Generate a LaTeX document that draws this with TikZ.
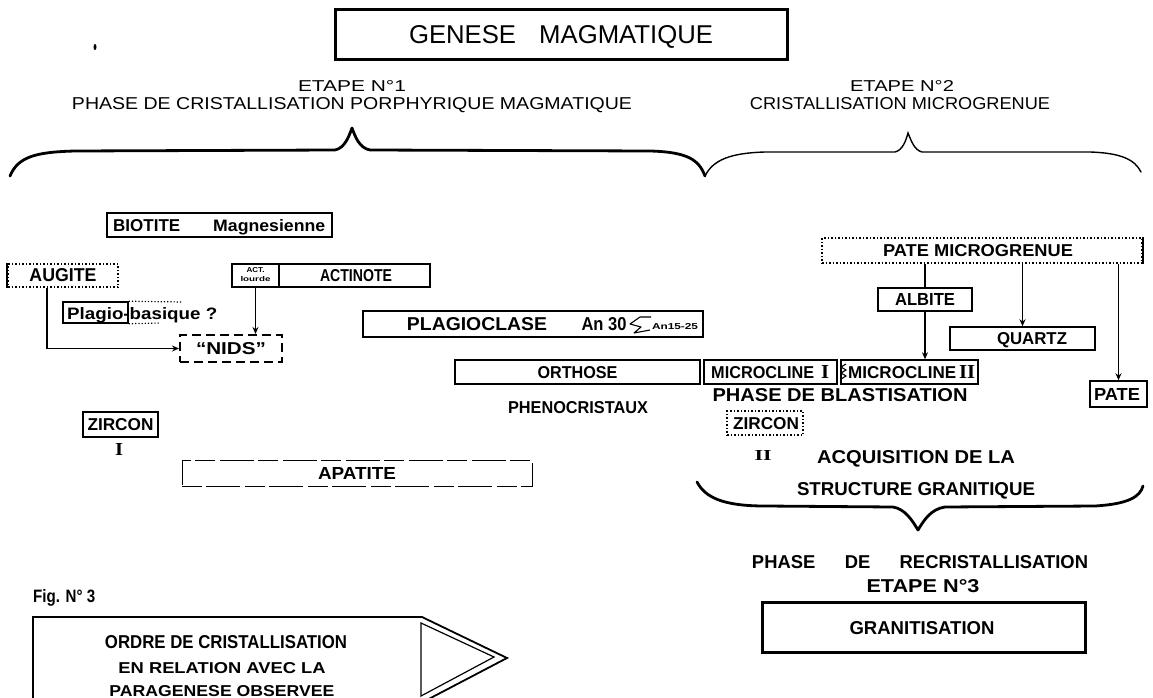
\documentclass[tikz,border=0pt]{standalone}
\usepackage{fontspec}
\setmainfont{Liberation Sans}
\newfontfamily\serifb{Liberation Serif}
\usepackage{graphicx}
\usetikzlibrary{arrows.meta}
\newcommand{\tx}[3]{\resizebox{#1pt}{#2pt}{#3}}
\tikzset{
  box/.style={draw, line width=1.5pt, inner sep=0pt},
  thickbox/.style={draw, line width=3pt, inner sep=0pt},
  lbl/.style={inner sep=0pt, anchor=base, font=\fontsize{15}{15}\selectfont\bfseries},
  lblw/.style={inner sep=0pt, anchor=base west, font=\fontsize{15}{15}\selectfont\bfseries},
  lblr/.style={inner sep=0pt, anchor=base, font=\fontsize{15}{15}\selectfont},
  conn/.style={line width=1.6pt},
  arr/.style={conn, -{Stealth[length=7pt,width=6pt]}},
  bracepath/.style={line width=2.8pt, line cap=round, line join=round},
}
\begin{document}
\begin{tikzpicture}[x=1pt,y=-1pt]
\useasboundingbox (0,0) rectangle (1153,698);
\fill[white] (0,0) rectangle (1153,698);

% speck
\fill (95,47) ellipse (1.5 and 3);

% title
\node[thickbox, minimum width=452, minimum height=50] (title) at (561,35) {};
\node[lblr] (titlet) at (561,44) {\tx{304}{18}{GENESE\hspace{0.9em}MAGMATIQUE}};

% stage headers
\node[lblr] (e1) at (352,92) {\tx{108}{11}{ETAPE N°1}};
\node[lblr] (p1) at (352,110) {\tx{560}{12}{PHASE DE CRISTALLISATION PORPHYRIQUE MAGMATIQUE}};
\node[lblr] (e2) at (902,92) {\tx{104}{11}{ETAPE N°2}};
\node[lblr] (p2) at (900,110) {\tx{300}{12}{CRISTALLISATION MICROGRENUE}};

% braces
\draw[bracepath] (10,176) .. controls (18,157) and (35,152) .. (75,151) -- (335,150)
  .. controls (345,148) and (349,136) .. (352,128) .. controls (355,136) and (359,148) .. (370,150)
  -- (650,151) .. controls (688,152) and (699,160) .. (705,176);
\draw[line width=1.4pt, line cap=round] (705,176) .. controls (713,160) and (730,153) .. (765,152) -- (895,152)
  .. controls (903,150) and (906,140) .. (908,133) .. controls (911,140) and (914,150) .. (922,152)
  -- (1090,152) .. controls (1122,153) and (1135,160) .. (1141,172);

% left column
\node[box, minimum width=225, minimum height=24] (biotite) at (219.5,225) {};
\node[lblw] (biot) at (113,231) {\tx{67}{12}{BIOTITE}};
\node[lblw] (magn) at (213,231) {\tx{112}{12}{Magnesienne}};

\node[box, dotted, minimum width=110, minimum height=23] (augite) at (63,275.5) {};
\draw[line width=1.8pt] (augite.north west) -- (augite.south west);
\node[lbl] (augt) at (63,281) {\tx{67}{13}{AUGITE}};

\node[box, minimum width=47, minimum height=23] (act) at (255.5,275.5) {};
\node[lbl] (actt) at (255.5,272) {\tx{18}{5}{ACT.}};
\node[lbl] (lourt) at (255.5,281) {\tx{30}{5}{lourde}};
\node[box, minimum width=151, minimum height=23] (actinote) at (354.5,275.5) {};
\node[lbl] (actit) at (356,281) {\tx{72}{12}{ACTINOTE}};

\node[box, minimum width=65, minimum height=21] (plagio) at (95.5,312.5) {};
\draw[line width=1.2pt, dotted] (plagio.north east) -- (183,302);
\draw[line width=1.2pt, dotted] (plagio.south east) -- (160,323);
\node[lblw] (plagiot) at (67,319) {\tx{150}{12}{Plagio-basique ?}};

\node[box, line width=2pt, dash pattern=on 9pt off 5pt, minimum width=102, minimum height=27] (nids) at (231,348.5) {};
\node[lbl] (nidst) at (231,354) {\tx{70}{12}{“NIDS”}};

\draw[arr] ([xshift=40pt]augite.south west) |- (nids.west);
\draw[arr] (act.south) -- (act.south |- nids.north);

\node[box, minimum width=75, minimum height=25] (zircon1) at (120.5,424.5) {};
\node[lbl] (z1t) at (120.5,430.5) {\tx{66}{12}{ZIRCON}};
\node[lbl] (z1n) at (119,455) {\tx{8}{12}{\serifb\bfseries I}};

\node[box, line width=0.9pt, dash pattern=on 20pt off 4pt on 34pt off 5pt, minimum width=350, minimum height=26] (apatite) at (357,473) {};
\node[lbl] (apt) at (357,479) {\tx{78}{12}{APATITE}};

% middle
\node[box, minimum width=340, minimum height=26] (plagioclase) at (533,324) {};
\node[lbl] (plt) at (477,330.5) {\tx{140}{13}{PLAGIOCLASE}};
\node[lbl] (an30) at (604,330.5) {\tx{45}{13}{An 30}};
\draw[line width=1.1pt, line join=round] (651,317) -- (640,317) -- (630,324) -- (641,327) -- (634,333) -- (650,330);
\node[lbl] (an15) at (675,329) {\tx{46}{6}{An15-25}};

\node[box, minimum width=245, minimum height=24] (orthose) at (577.5,372) {};
\node[lbl] (ort) at (577.5,378) {\tx{80}{12}{ORTHOSE}};
\node[lbl] (phen) at (578,413) {\tx{140}{12}{PHENOCRISTAUX}};

% right column
\node[box, dotted, minimum width=320, minimum height=25] (pm) at (982,250.5) {};
\draw[line width=1.8pt] (pm.north east) -- (pm.south east);
\node[lbl] (pmt) at (978,256) {\tx{190}{12}{PATE MICROGRENUE}};

\node[box, minimum width=94, minimum height=23] (albite) at (925,299.5) {};
\node[lbl] (albt) at (925,305.5) {\tx{60}{12}{ALBITE}};

\node[box, minimum width=145, minimum height=23] (quartz) at (1022.5,338.5) {};
\node[lbl] (qt) at (1032,344.5) {\tx{70}{12}{QUARTZ}};

\node[box, minimum width=57, minimum height=26] (pate) at (1118.5,394) {};
\node[lbl] (patt) at (1117,400) {\tx{46}{12}{PATE}};

\node[box, minimum width=133, minimum height=24] (mc1) at (770.5,372) {};
\node[lblw] (mc1t) at (711,378) {\tx{103}{12}{MICROCLINE}};
\node[lbl] (mc1n) at (825,378) {\tx{8}{13}{\serifb\bfseries I}};
\node[box, minimum width=137, minimum height=24] (mc2) at (909.5,372) {};
\draw[line width=1.1pt] (846,364) -- (841,367) -- (846,370) -- (841,373) -- (846,376) -- (841,379);
\node[lblw] (mc2t) at (848,378) {\tx{108}{12}{MICROCLINE}};
\node[lbl] (mc2n) at (967,378) {\tx{16}{13}{\serifb\bfseries II}};

\node[lbl] (blast) at (840,401) {\tx{255}{13}{PHASE DE BLASTISATION}};

\node[box, dotted, line width=1.3pt, minimum width=76, minimum height=24] (zircon2) at (765,423) {};
\node[lbl] (z2t) at (766,429) {\tx{66}{12}{ZIRCON}};
\node[lbl] (z2n) at (763,460) {\tx{17}{10}{\serifb\bfseries II}};

\draw[conn] (pm.south -| albite.north) -- (albite.north);
\draw[arr] (albite.south) -- (albite.south |- mc2.north);
\draw[arr] (pm.south -| quartz.north) -- (quartz.north);
\draw[arr] (pm.south -| pate.north) -- (pate.north);

\node[lbl] (acq) at (916,463) {\tx{198}{13}{ACQUISITION DE LA}};
\node[lbl] (struc) at (916,495) {\tx{238}{13}{STRUCTURE GRANITIQUE}};

\draw[bracepath] (697,482) .. controls (705,497) and (722,506) .. (765,506) -- (893,507)
  .. controls (905,509) and (912,520) .. (918,530) .. controls (924,520) and (931,509) .. (945,507)
  -- (1095,506) .. controls (1128,504) and (1140,497) .. (1143,486);

\node[lbl] (recr) at (920,568) {\tx{336}{13}{PHASE\hspace{1.6em}DE\hspace{1.6em}RECRISTALLISATION}};
\node[lbl] (e3) at (923,592) {\tx{113}{13}{ETAPE N°3}};

\node[thickbox, minimum width=323, minimum height=50] (gran) at (923.5,627) {};
\node[lbl] (grant) at (922,634) {\tx{145}{13}{GRANITISATION}};

% bottom left
\node[lblw] (fig) at (33,602) {\tx{62}{13}{Fig. N° 3}};
\draw[line width=1.8pt, line join=miter] (33,702) -- (33,617) -- (422,617) -- (507,658) -- (423,702);
\draw[line width=1.2pt, line join=miter] (421,623) -- (421,696) -- (494,657) -- cycle;
\node[lbl] (o1) at (226,648) {\tx{242}{13}{ORDRE DE CRISTALLISATION}};
\node[lbl] (o2) at (222,673) {\tx{207}{11}{EN RELATION AVEC LA}};
\node[lbl] (o3) at (222,696) {\tx{225}{11}{PARAGENESE OBSERVEE}};
\end{tikzpicture}
\end{document}
